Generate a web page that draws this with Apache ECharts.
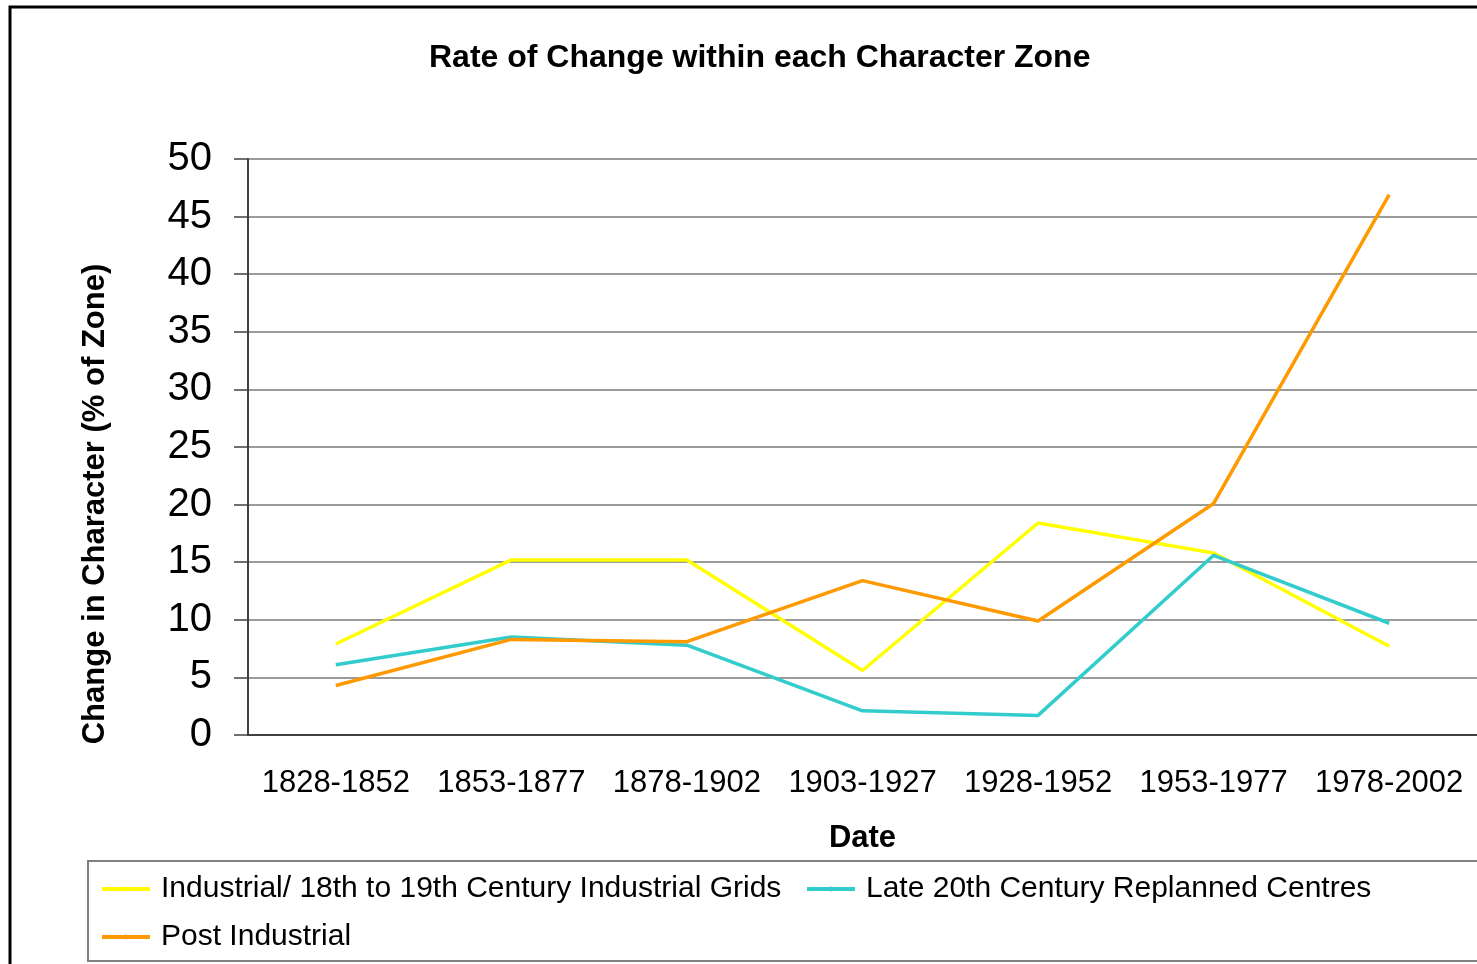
<!DOCTYPE html>
<html>
<head>
<meta charset="utf-8">
<title>Rate of Change within each Character Zone</title>
<script src="https://cdn.jsdelivr.net/npm/echarts@6/dist/echarts.min.js"></script>
<style>
  html, body { margin: 0; padding: 0; background: #fff; }
  #chart { width: 1477px; height: 964px; }
</style>
</head>
<body>
<div id="chart"></div>
<script>
// values
var periods = ['1828-1852', '1853-1877', '1878-1902', '1903-1927', '1928-1952', '1953-1977', '1978-2002'];
var industrialGrids = [7.9, 15.2, 15.2, 5.6, 18.4, 15.8, 7.7];
var replannedCentres = [6.1, 8.5, 7.8, 2.1, 1.7, 15.6, 9.7];
var postIndustrial = [4.3, 8.3, 8.1, 13.4, 9.9, 20.1, 46.9];
var yTicks = [0, 5, 10, 15, 20, 25, 30, 35, 40, 45, 50];

var names = [
    'Industrial/ 18th to 19th Century Industrial Grids',
    'Late 20th Century Replanned Centres',
    'Post Industrial'
];
var colors = ['#ffff00', '#33cccc', '#ff9900'];
var font = '"Liberation Sans", Arial, sans-serif';

var myChart = echarts.init(document.getElementById('chart'));

function lineSeries(i, data) {
    return {
        name: names[i],
        type: 'line',
        data: data,
        symbol: 'none',
        color: colors[i],
        lineStyle: { color: colors[i], width: 3.5 },
        animation: false
    };
}

// one legend per item so the rows sit where the original puts them
function legendAt(i, left, top) {
    return {
        data: [names[i]],
        left: left,
        top: top,
        padding: 0,
        itemWidth: 48,
        itemHeight: 6,
        lineStyle: { width: 4 },
        textStyle: { fontFamily: font, fontSize: 30, color: '#000', padding: [0, 0, 0, 6] }
    };
}

var option = {
    backgroundColor: '#fff',
    title: {
        text: 'Rate of Change within each Character Zone',
        left: 424,
        top: 37,
        textStyle: { fontFamily: font, fontSize: 32, fontWeight: 'bold', color: '#000' }
    },
    legend: [
        legendAt(0, 100, 874),
        legendAt(1, 805, 874),
        legendAt(2, 100, 922)
    ],
    grid: { left: 248, top: 159, right: 0, bottom: 229 },
    xAxis: {
        type: 'category',
        data: periods,
        name: 'Date',
        nameLocation: 'middle',
        nameGap: 88,
        nameTextStyle: { fontFamily: font, fontSize: 31, fontWeight: 'bold', color: '#000' },
        axisLine: { lineStyle: { color: '#404040', width: 2 } },
        axisTick: { length: 9, lineStyle: { color: '#404040', width: 1.5 } },
        axisLabel: { fontFamily: font, fontSize: 31, color: '#000', margin: 33, interval: 0 }
    },
    yAxis: {
        type: 'value',
        min: yTicks[0],
        max: yTicks[yTicks.length - 1],
        interval: 5,
        axisLine: { show: true, lineStyle: { color: '#404040', width: 2 } },
        axisTick: { show: true, length: 14, lineStyle: { color: '#404040', width: 1.5 } },
        axisLabel: { fontFamily: font, fontSize: 40, color: '#000', margin: 36, padding: [4, 0, 0, 0] },
        splitLine: { lineStyle: { color: '#7a7a7a', width: 1.5 } }
    },
    graphic: [
        {   // outer chart border
            type: 'rect',
            shape: { x: 10, y: 7, width: 1600, height: 1100 },
            style: { fill: null, stroke: '#000', lineWidth: 3 },
            silent: true
        },
        {   // legend box
            type: 'rect',
            shape: { x: 88, y: 861, width: 1600, height: 100 },
            style: { fill: null, stroke: '#808080', lineWidth: 2 },
            silent: true
        },
        {
            type: 'text',
            x: 95,
            y: 504,
            rotation: Math.PI / 2,
            style: {
                text: 'Change in Character (% of Zone)',
                fontFamily: font,
                fontSize: 31,
                fontWeight: 'bold',
                fill: '#000',
                align: 'center',
                verticalAlign: 'middle'
            }
        }
    ],
    series: [
        lineSeries(0, industrialGrids),
        lineSeries(1, replannedCentres),
        lineSeries(2, postIndustrial)
    ]
};

myChart.setOption(option);
</script>
</body>
</html>
